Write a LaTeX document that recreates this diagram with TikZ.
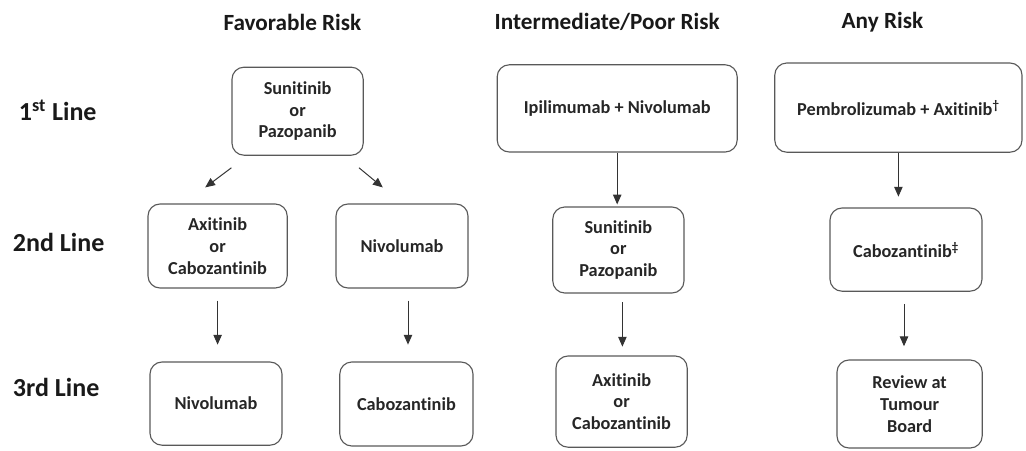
\documentclass[tikz,border=0pt]{standalone}
\usepackage{fontspec}
\setmainfont{Carlito}[Ligatures={NoCommon}, RawFeature={-liga;-clig;-calt;-dlig}]
\usetikzlibrary{arrows.meta}

\begin{document}
\begin{tikzpicture}[
		box/.style={draw=black!65, line width=0.8pt, rounded corners=0.3cm, align=center,
			font=\bfseries\fontsize{13}{15.5}\selectfont, text=black!85},
		head/.style={font=\bfseries\fontsize{16.5}{19}\selectfont, text=black!90},
		rowlabel/.style={anchor=west, font=\bfseries\fontsize{18.5}{21}\selectfont, text=black!90},
		arr/.style={draw=black!80, line width=0.7pt, -{Triangle[length=7pt,width=6pt]}}
	]
		\useasboundingbox (0,0) rectangle (25.65,-11.25);

		% Column headers
		\node[head] (hfav) at (7.31,-0.55) {Favorable Risk};
		\node[head] (hint) at (15.18,-0.55) {Intermediate/Poor Risk};
		\node[head] (hany) at (22.06,-0.55) {Any Risk};

		% Row labels
		\node[rowlabel] (line1) at (0.35,-2.75) {1\textsuperscript{st} Line};
		\node[rowlabel] (line2) at (0.2,-6.05) {2nd Line};
		\node[rowlabel] (line3) at (0.2,-9.68) {3rd Line};

		% Favorable risk
		\node[box, minimum width=3.28cm, minimum height=2.2cm] (fav1) at (7.44,-2.78) {Sunitinib\\or\\Pazopanib};
		\node[box, minimum width=3.48cm, minimum height=2.1cm] (fav2a) at (5.44,-6.15) {Axitinib\\or\\Cabozantinib};
		\node[box, minimum width=3.3cm, minimum height=2.1cm] (fav2b) at (10.05,-6.15) {Nivolumab};
		\node[box, minimum width=3.3cm, minimum height=2.08cm] (fav3a) at (5.4,-10.09) {Nivolumab};
		\node[box, minimum width=3.33cm, minimum height=2.1cm] (fav3b) at (10.16,-10.1) {Cabozantinib};

		% Intermediate/poor risk
		\node[box, minimum width=6cm, minimum height=2.18cm] (int1) at (15.43,-2.71) {Ipilimumab + Nivolumab};
		\node[box, minimum width=3.28cm, minimum height=2.15cm] (int2) at (15.46,-6.25) {Sunitinib\\or\\Pazopanib};
		\node[box, minimum width=3.28cm, minimum height=2.28cm] (int3) at (15.54,-10.04) {Axitinib\\or\\Cabozantinib};

		% Any risk
		\node[box, minimum width=6.18cm, minimum height=2.23cm] (any1) at (22.46,-2.69) {Pembrolizumab + Axitinib\textsuperscript{\textdagger}};
		\node[box, minimum width=3.8cm, minimum height=2.08cm] (any2) at (22.65,-6.24) {Cabozantinib\textsuperscript{\textdaggerdbl}};
		\node[box, minimum width=3.63cm, minimum height=2.2cm] (any3) at (22.74,-10.1) {Review at\\Tumour\\Board};

		% Arrows
		\draw[arr] ([yshift=-0.3cm]fav1.south west) -- ([xshift=-0.31cm,yshift=0.4cm]fav2a.north);
		\draw[arr] ([xshift=-0.12cm,yshift=-0.3cm]fav1.south east) -- ([xshift=-0.48cm,yshift=0.4cm]fav2b.north);
		\draw[arr, shorten <=0.3cm, shorten >=0.42cm] (fav2a.south) -- (fav2a.south |- fav3a.north);
		\draw[arr, shorten <=0.3cm, shorten >=0.42cm] ([xshift=0.15cm]fav2b.south) -- ([xshift=0.15cm]fav2b.south |- fav3b.north);

		\draw[arr, shorten >=0.05cm] (int1.south) -- (int1.south |- int2.north);
		\draw[arr, shorten <=0.22cm, shorten >=0.22cm] ([xshift=0.1cm]int2.south) -- ([xshift=0.1cm]int2.south |- int3.north);

		\draw[arr, shorten >=0.27cm] (any1.south) -- (any1.south |- any2.north);
		\draw[arr, shorten <=0.3cm, shorten >=0.33cm] ([xshift=-0.05cm]any2.south) -- ([xshift=-0.05cm]any2.south |- any3.north);
	\end{tikzpicture}
\end{document}
